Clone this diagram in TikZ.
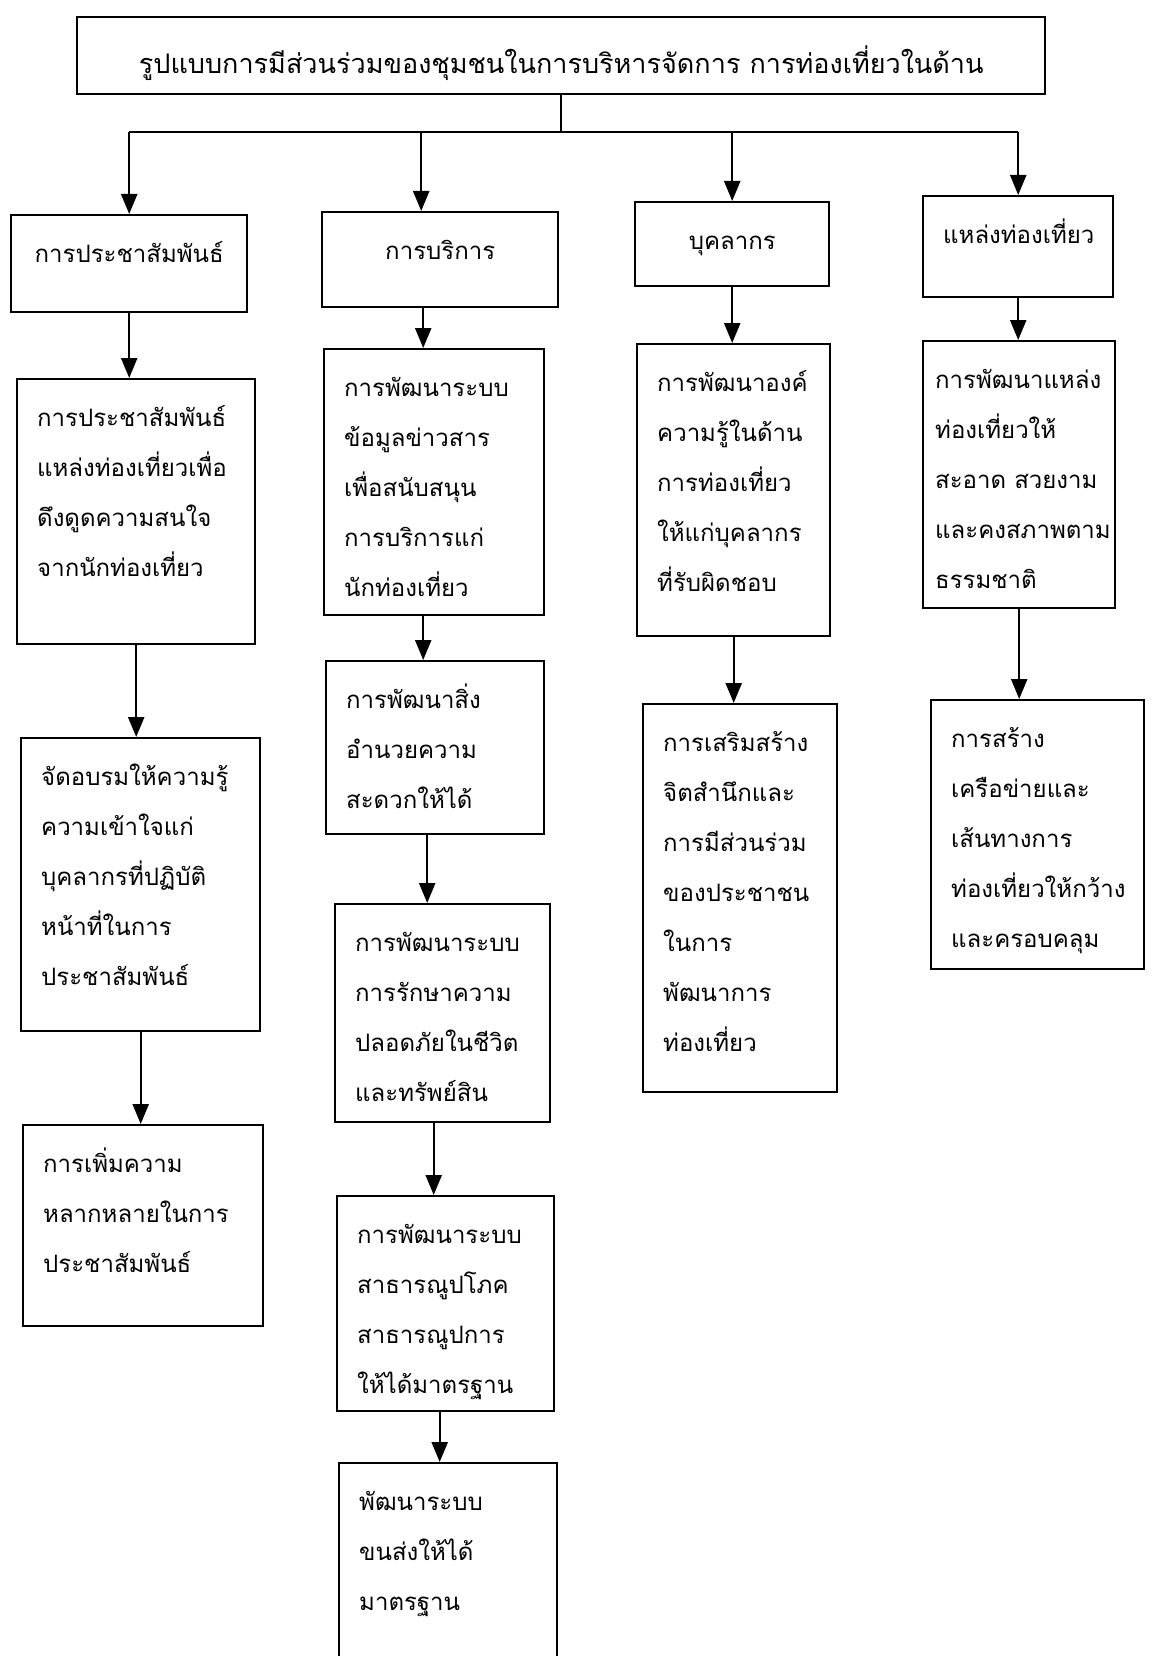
\documentclass[tikz,border=0pt]{standalone}
\usepackage{fontspec}
\usetikzlibrary{arrows.meta}
\setmainfont[Script=Thai]{Loma}
\newcommand{\celltext}[3]{\parbox[c][#2][t]{#1}{\raggedright\fontsize{24}{50}\selectfont\rule{0pt}{47pt}#3}}
\newcommand{\headtext}[3]{\parbox[c][#2][t]{#1}{\centering\fontsize{24}{50}\selectfont\rule{0pt}{47pt}#3}}

\begin{document}
\begin{tikzpicture}[
		x=1pt, y=-1pt,
		line width=2.4pt,
		every node/.style={draw, rectangle, line width=2.4pt, inner ysep=0pt, inner xsep=20pt, anchor=north west},
		link/.style={-{Triangle[width=16pt, length=20pt]}}
	]
  \useasboundingbox (0, 0) rectangle (1154, 1656);
  \node (title) [minimum width=968pt, minimum height=77pt, inner sep=0pt, text height=35pt, text depth=0pt] at (76, 16) {\fontsize{27}{34}\selectfont รูปแบบการมีส่วนร่วมของชุมชนในการบริหารจัดการ การท่องเที่ยวในด้าน};
  \coordinate (bus) at (0, 132);
  \node (pr) at (10, 214) {\headtext{196pt}{97pt}{การประชาสัมพันธ์}};
  \node (sv) at (321, 211) {\headtext{196pt}{95pt}{การบริการ}};
  \node (st) at (634, 201) {\headtext{154pt}{84pt}{บุคลากร}};
  \node (sp) at (922, 195) {\headtext{150pt}{101pt}{แหล่งท่องเที่ยว}};
  \node (pr_1) at (16, 378) {\celltext{198pt}{265pt}{การประชาสัมพันธ์\\ แหล่งท่องเที่ยวเพื่อ\\ ดึงดูดความสนใจ\\ จากนักท่องเที่ยว}};
  \node (pr_2) at (20, 737) {\celltext{199pt}{293pt}{จัดอบรมให้ความรู้\\ ความเข้าใจแก่\\ บุคลากรที่ปฏิบัติ\\ หน้าที่ในการ\\ ประชาสัมพันธ์}};
  \node (pr_3) at (22, 1124) {\celltext{200pt}{201pt}{การเพิ่มความ\\ หลากหลายในการ\\ ประชาสัมพันธ์}};
  \node (sv_1) at (323, 348) {\celltext{180pt}{266pt}{การพัฒนาระบบ\\ ข้อมูลข่าวสาร\\ เพื่อสนับสนุน\\ การบริการแก่\\ นักท่องเที่ยว}};
  \node (sv_2) at (325, 660) {\celltext{178pt}{173pt}{การพัฒนาสิ่ง\\ อำนวยความ\\ สะดวกให้ได้}};
  \node (sv_3) at (334, 903) {\celltext{175pt}{218pt}{การพัฒนาระบบ\\ การรักษาความ\\ ปลอดภัยในชีวิต\\ และทรัพย์สิน}};
  \node (sv_4) at (336, 1195) {\celltext{177pt}{215pt}{การพัฒนาระบบ\\ สาธารณูปโภค\\ สาธารณูปการ\\ ให้ได้มาตรฐาน}};
  \node (sv_5) at (338, 1462) {\celltext{178pt}{202pt}{พัฒนาระบบ\\ ขนส่งให้ได้\\ มาตรฐาน}};
  \node (st_1) at (636, 343) {\celltext{153pt}{292pt}{การพัฒนาองค์\\ ความรู้ในด้าน\\ การท่องเที่ยว\\ ให้แก่บุคลากร\\ ที่รับผิดชอบ}};
  \node (st_2) at (642, 703) {\celltext{154pt}{388pt}{การเสริมสร้าง\\ จิตสำนึกและ\\ การมีส่วนร่วม\\ ของประชาชน\\ ในการ\\ พัฒนาการ\\ ท่องเที่ยว}};
  \node (sp_1) [inner xsep=12pt] at (922, 340) {\celltext{168pt}{267pt}{การพัฒนาแหล่ง\\ ท่องเที่ยวให้\\ สะอาด~สวยงาม\\ และคงสภาพตาม\\ ธรรมชาติ}};
  \node (sp_2) at (930, 699) {\celltext{173pt}{269pt}{การสร้าง\\ เครือข่ายและ\\ เส้นทางการ\\ ท่องเที่ยวให้กว้าง\\ และครอบคลุม}};
  \draw (title.south) -- (title.south |- bus);
  \draw (pr.north |- bus) -- (sp.north |- bus);
  \foreach \n in {pr, st, sp}
    \draw [link] (\n.north |- bus) -- (\n.north);
  \draw [link] ([xshift=-19pt]sv.north |- bus) -- ([xshift=-19pt]sv.north);
  \draw [link] (pr.south) -- (pr.south |- pr_1.north);
  \draw [link] (pr_1.south) -- (pr_1.south |- pr_2.north);
  \draw [link] (pr_2.south) -- (pr_2.south |- pr_3.north);
  \draw [link] ([xshift=-17pt]sv.south) -- ([xshift=-17pt]sv.south |- sv_1.north);
  \draw [link] ([xshift=-11pt]sv_1.south) -- ([xshift=-11pt]sv_1.south |- sv_2.north);
  \draw [link] ([xshift=-8pt]sv_2.south) -- ([xshift=-8pt]sv_2.south |- sv_3.north);
  \draw [link] ([xshift=-9pt]sv_3.south) -- ([xshift=-9pt]sv_3.south |- sv_4.north);
  \draw [link] ([xshift=-6pt]sv_4.south) -- ([xshift=-6pt]sv_4.south |- sv_5.north);
  \draw [link] (st.south) -- (st.south |- st_1.north);
  \draw [link] (st_1.south) -- (st_1.south |- st_2.north);
  \draw [link] (sp.south) -- (sp.south |- sp_1.north);
  \draw [link] (sp_1.south) -- (sp_1.south |- sp_2.north);
\end{tikzpicture}
\end{document}
